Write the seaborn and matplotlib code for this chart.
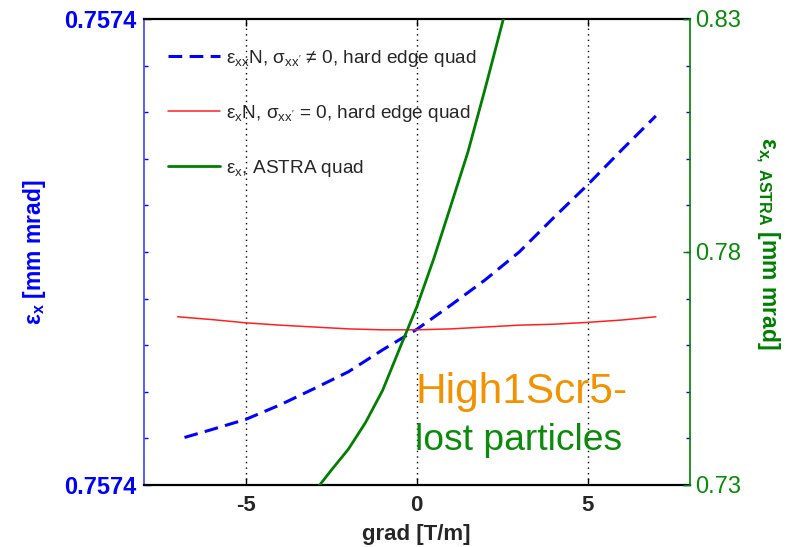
import numpy as np
import pandas as pd
import matplotlib
matplotlib.use("Agg")
import matplotlib.pyplot as plt
import seaborn as sns

# ---------------- data ----------------
grad_blue = [-6.8, -6, -5, -4, -3, -2, -1, 0, 1, 2, 3, 4, 5, 6, 7]
eps_blue = [0.7573602, 0.7573619, 0.7573641, 0.7573672, 0.7573707, 0.7573743,
            0.7573790, 0.7573834, 0.7573886, 0.7573940, 0.7574000, 0.7574073,
            0.7574144, 0.7574219, 0.7574292]

grad_red = [-7, -6, -5, -4, -3, -2, -1, 0, 1, 2, 3, 4, 5, 6, 7]
eps_red = [0.7573861, 0.7573855, 0.7573848, 0.7573843, 0.7573839, 0.7573835,
           0.7573833, 0.7573833, 0.7573835, 0.7573839, 0.7573843, 0.7573845,
           0.7573849, 0.7573854, 0.7573861]

grad_green = [-3, -2.5, -2, -1.5, -1, -0.5, 0, 0.5, 1, 1.5, 2, 2.5, 3]
eps_green = [0.7285, 0.7332, 0.7377, 0.7434, 0.7503, 0.7593, 0.7682, 0.7786,
             0.7900, 0.8015, 0.8150, 0.8290, 0.8432]

left_lim = [0.757350, 0.757450]
left_tick_labels = ["0.7574", "0.7574"]
right_ticks = [0.73, 0.78, 0.83]
right_tick_labels = ["0.73", "0.78", "0.83"]
x_ticks = [-5, 0, 5]

labels = [r"$ε_{xx}$N, $σ_{xx'}$ ≠ 0, hard edge quad",
          r"$ε_{x}$N, $σ_{xx'}$ = 0, hard edge quad",
          r"$ε_{x}$, ASTRA quad"]

# ---------------- style ----------------
sns.set_style("white")
plt.rcParams['font.family'] = ['Liberation Sans', 'DejaVu Sans']
plt.rcParams['mathtext.fontset'] = 'custom'
plt.rcParams['mathtext.rm'] = 'Liberation Sans'
plt.rcParams['mathtext.it'] = 'Liberation Sans:italic'
plt.rcParams['mathtext.bf'] = 'Liberation Sans:bold'
plt.rcParams['mathtext.default'] = 'regular'
plt.rcParams['mathtext.fallback'] = 'stixsans'

BLUE = "#0000FF"
SPINE_BLUE = "#4040FF"
RED = "#FF2020"
GREEN = "#007F00"
GREEN_TXT = "#0B8A0B"
ORANGE = "#F39200"

W, H = 786, 547
fig = plt.figure(figsize=(W / 100, H / 100), dpi=100)
L, R, T, B = 143.5, 690, 19, 485
ax = fig.add_axes([L / W, (H - B) / H, (R - L) / W, (B - T) / H])
ax2 = ax.twinx()

df_b = pd.DataFrame({"grad": grad_blue, "eps": eps_blue})
df_r = pd.DataFrame({"grad": grad_red, "eps": eps_red})
df_g = pd.DataFrame({"grad": grad_green, "eps": eps_green})

sns.lineplot(data=df_b, x="grad", y="eps", ax=ax, color=BLUE, linewidth=2.2,
             label=labels[0], legend=False)
lb = ax.lines[-1]
lb.set_linestyle((0, (4.5, 2.4)))
sns.lineplot(data=df_r, x="grad", y="eps", ax=ax, color=RED, linewidth=1.1,
             label=labels[1], legend=False)
lr = ax.lines[-1]
sns.lineplot(data=df_g, x="grad", y="eps", ax=ax2, color=GREEN, linewidth=2.0,
             label=labels[2], legend=False)
lg = ax2.lines[-1]

# ---------------- axes ----------------
ax.set_xlim(-8, 8)
ax.set_ylim(*left_lim)
ax2.set_ylim(right_ticks[0], right_ticks[-1])

ax.set_xticks(x_ticks)
ax.set_xticklabels([str(v) for v in x_ticks], fontsize=16, fontweight='bold')
ax.tick_params(axis='x', direction='in', top=True, bottom=True, length=5,
               width=1, color='black', pad=7)

ax.set_yticks(left_lim)
ax.set_yticklabels(left_tick_labels, fontsize=17, fontweight='bold', color=BLUE)
ax.set_yticks(np.linspace(left_lim[0], left_lim[1], 11)[1:-1], minor=True)
ax.yaxis.set_ticks_position('both')
ax.tick_params(axis='y', which='both', direction='in', left=True, right=True,
               labelright=False, color=BLUE, pad=5)
ax.tick_params(axis='y', which='major', length=5, width=1)
ax.tick_params(axis='y', which='minor', length=3, width=1)

ax2.set_yticks(right_ticks)
ax2.set_yticklabels(right_tick_labels, fontsize=17, color=GREEN_TXT)
ax2.tick_params(axis='y', direction='in', right=True, left=False, length=5,
                width=1, color=GREEN, pad=4)
ax.set_xlabel("grad [T/m]", fontsize=16, fontweight='bold', labelpad=6)
ax.set_ylabel("")
ax2.set_ylabel("")

ax.grid(axis='x', linestyle=(0, (1, 3)), color='black', linewidth=1.0)
ax.grid(axis='y', visible=False)
ax.set_axisbelow(True)

for s in ['top', 'bottom']:
    ax.spines[s].set_color('black')
    ax.spines[s].set_linewidth(1.6)
    ax2.spines[s].set_visible(False)
ax.spines['left'].set_color(SPINE_BLUE)
ax.spines['left'].set_linewidth(1.2)
ax.spines['right'].set_visible(False)
ax2.spines['left'].set_visible(False)
ax2.spines['right'].set_color(GREEN)
ax2.spines['right'].set_linewidth(1.2)

# axis labels
fig.text(35 / W, 1 - 252 / H, r"$ε_{x}$ [mm mrad]", rotation=90, ha='center',
         va='center', fontsize=16.5, fontweight='bold', color=BLUE)
fig.text(767 / W, 1 - 243 / H, r"$ε_{x,\ ASTRA}$ [mm mrad]", rotation=-90,
         ha='center', va='center', fontsize=16.5, fontweight='bold', color=GREEN)

# legend
ax2.legend([lb, lr, lg], labels, loc='upper left', bbox_to_anchor=(0.045, 0.938),
           frameon=False, fontsize=13.7, handlelength=2.75, handletextpad=0.3,
           labelspacing=1.78, borderpad=0, borderaxespad=0)

# annotation
ax2.text(0.497, 0.175, "High1Scr5-", transform=ax2.transAxes, fontsize=30.5,
         color=ORANGE, ha='left', va='baseline')
ax2.text(0.497, 0.075, "lost particles", transform=ax2.transAxes, fontsize=26.8,
         color=GREEN_TXT, ha='left', va='baseline')

fig.savefig("out.png", dpi=100)
